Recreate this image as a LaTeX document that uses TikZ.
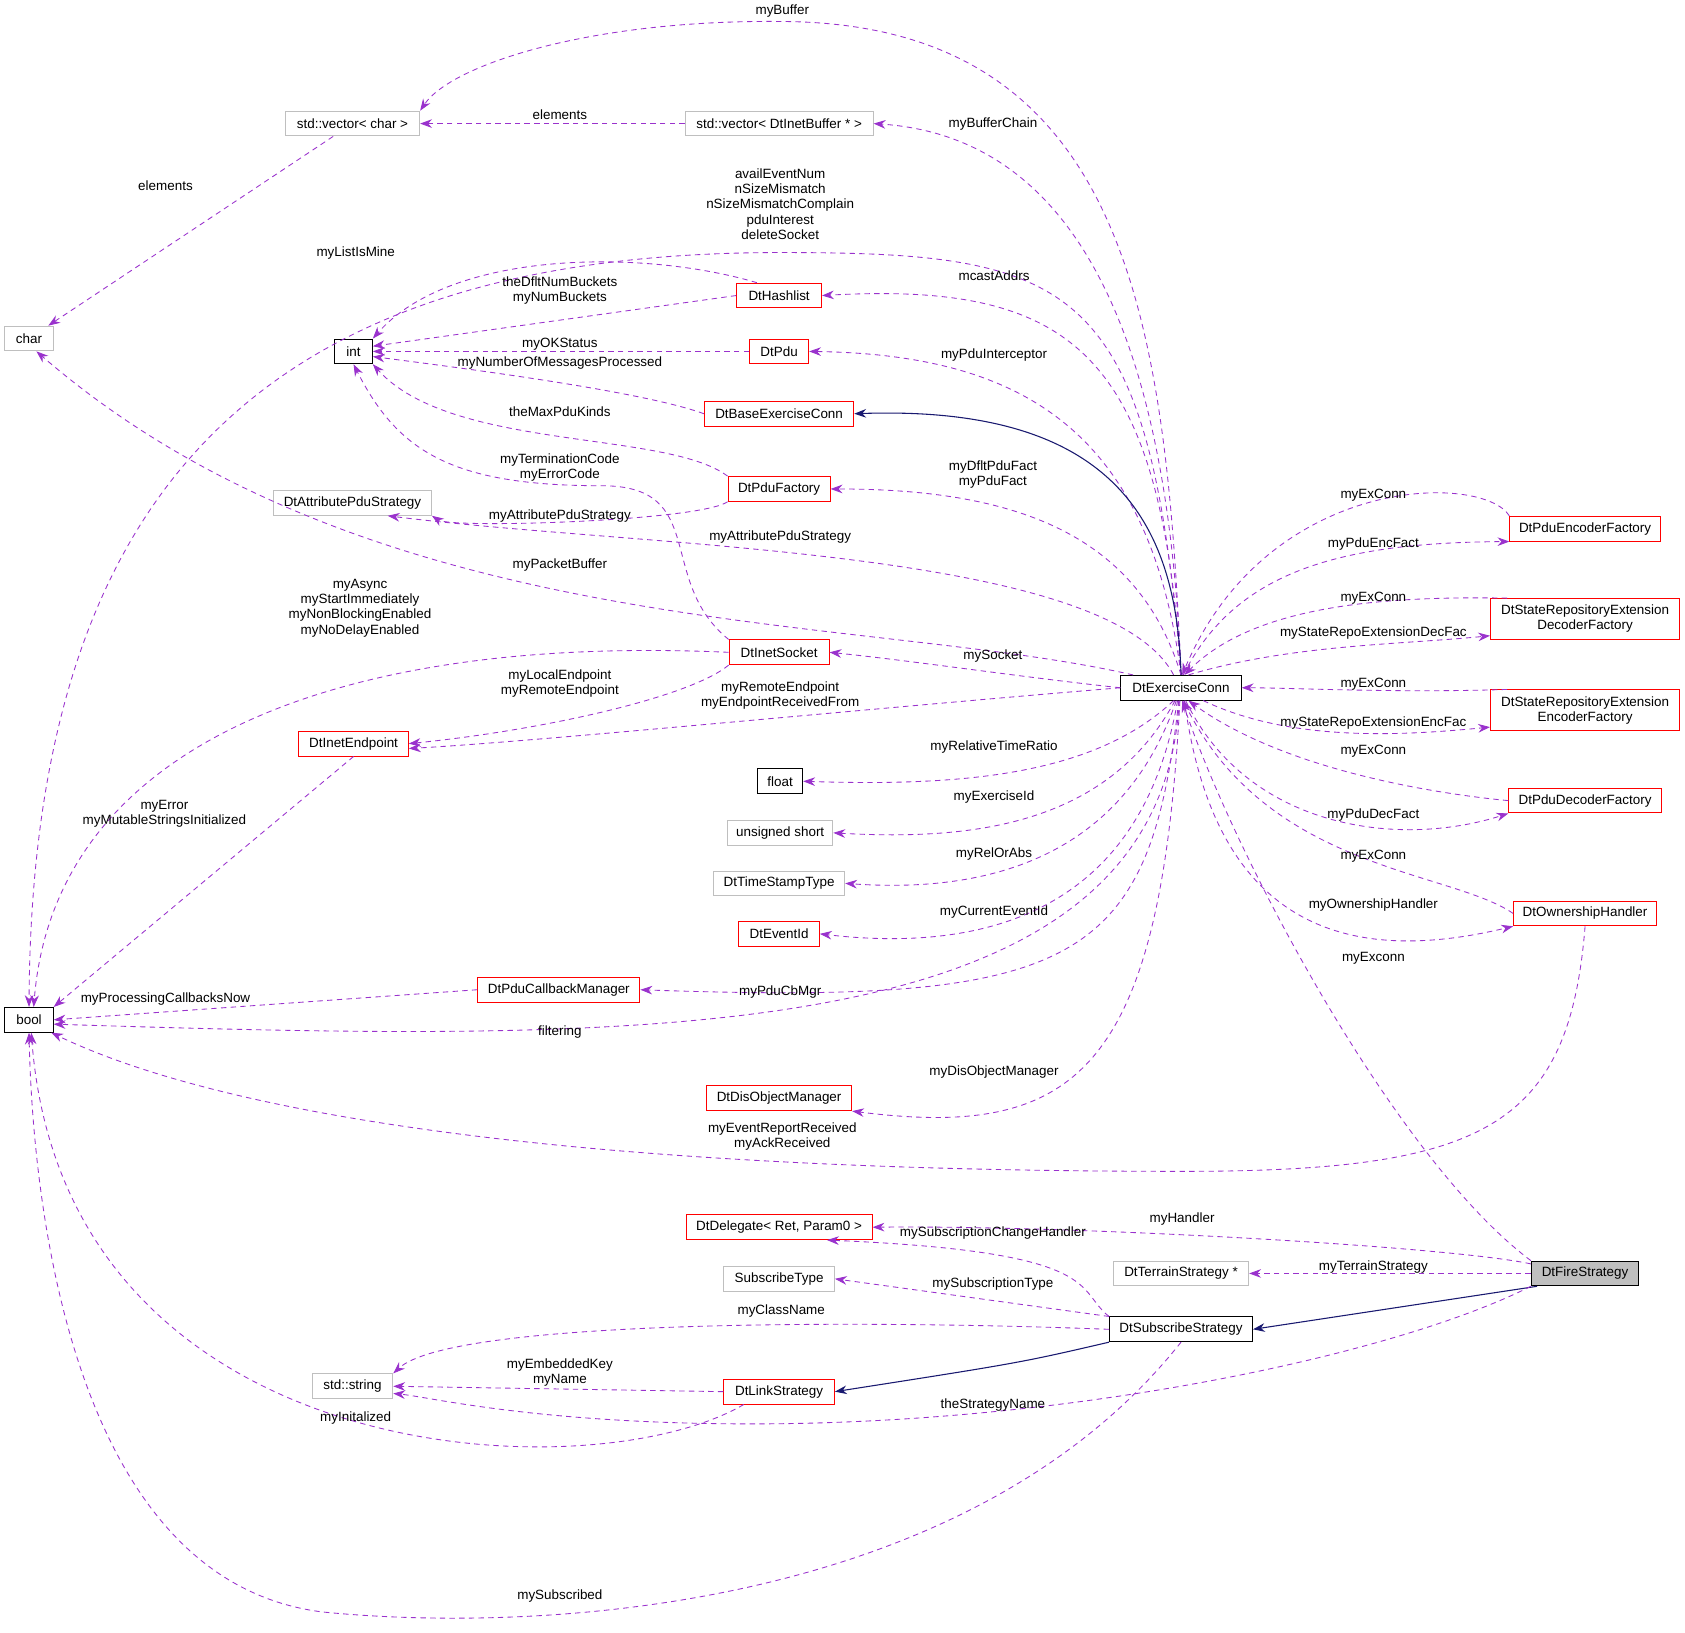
\documentclass[tikz,border=0pt]{standalone}
\usepackage{fontspec}
\setmainfont{Liberation Sans}
\usetikzlibrary{arrows.meta}
\definecolor{pe}{RGB}{154,50,205}
\definecolor{nv}{RGB}{25,25,112}
\definecolor{gb}{RGB}{191,191,191}
\begin{document}
\begin{tikzpicture}[x=1pt,y=-1pt,
  every node/.style={font=\fontsize{12.5}{14}\selectfont,inner sep=0pt,align=center},
  bx/.style={draw,minimum height=23pt,fill=white,line width=0.9pt},
  gr/.style={bx,draw=gb},
  rd/.style={bx,draw=red},
  bk/.style={bx,draw=black},
  d/.style={pe,dashed,dash pattern=on 5pt off 4pt,line width=0.8pt,-{Stealth[length=11pt,width=8pt]}},
  s/.style={nv,line width=1pt,-{Stealth[length=11pt,width=8pt]}},
  l/.style={text=black}]
\useasboundingbox (0,0) rectangle (1568,1519);
\fill[white] (0,0) rectangle (1568,1519);
% nodes
\node[gr,minimum width=125pt] (vc) at (328,115) {std::vector< char >};
\node[gr,minimum width=175pt] (vb) at (725,115) {std::vector< DtInetBuffer * >};
\node[gr,minimum width=45pt] (ch) at (27,315) {char};
\node[bk,minimum width=35pt] (int) at (329,327) {int};
\node[rd,minimum width=79pt] (hl) at (725,275) {DtHashlist};
\node[rd,minimum width=55pt] (pdu) at (725,327) {DtPdu};
\node[rd,minimum width=139pt] (be) at (725,385) {DtBaseExerciseConn};
\node[rd,minimum width=95pt] (pf) at (725,455) {DtPduFactory};
\node[gr,minimum width=147pt] (aps) at (328,468) {DtAttributePduStrategy};
\node[rd,minimum width=93pt] (is) at (725,607) {DtInetSocket};
\node[rd,minimum width=102pt] (ie) at (329,692) {DtInetEndpoint};
\node[bk,minimum width=42pt] (fl) at (726,727) {float};
\node[gr,minimum width=98pt] (us) at (726,775) {unsigned short};
\node[gr,minimum width=122pt] (ts) at (725,822) {DtTimeStampType};
\node[rd,minimum width=75pt] (eid) at (725,869) {DtEventId};
\node[rd,minimum width=151pt] (pcm) at (520,921) {DtPduCallbackManager};
\node[bk,minimum width=45pt] (bool) at (27,949) {bool};
\node[rd,minimum width=135pt] (dom) at (725,1022) {DtDisObjectManager};
\node[bk,minimum width=112pt] (ec) at (1099,640) {DtExerciseConn};
\node[rd,minimum width=140pt] (ef) at (1475,492) {DtPduEncoderFactory};
\node[rd,minimum width=176pt,minimum height=38pt] (sd) at (1475,576) {DtStateRepositoryExtension\\DecoderFactory};
\node[rd,minimum width=176pt,minimum height=38pt] (se) at (1475,661) {DtStateRepositoryExtension\\EncoderFactory};
\node[rd,minimum width=142pt] (df) at (1475,745) {DtPduDecoderFactory};
\node[rd,minimum width=133pt] (oh) at (1475,850) {DtOwnershipHandler};
\node[rd,minimum width=173pt] (dd) at (725,1142) {DtDelegate< Ret, Param0 >};
\node[gr,minimum width=126pt] (ts2) at (1099,1185) {DtTerrainStrategy *};
\node[gr,minimum width=103pt] (st) at (725,1190) {SubscribeType};
\node[bk,minimum width=100pt,fill=gb] (fs) at (1475,1185) {DtFireStrategy};
\node[bk,minimum width=133pt] (ss) at (1099,1237) {DtSubscribeStrategy};
\node[gr,minimum width=75pt] (sstr) at (328,1290) {std::string};
\node[rd,minimum width=103pt] (ls) at (725,1295) {DtLinkStrategy};
% edges
\draw[d] (ec.north) .. controls (1085,300) and (1050,22) .. (728,20) .. controls (550,18) and (420,60) .. (vc.north east);
\node[l] at (728,10) {myBuffer};
\draw[d] (ec.north) .. controls (1090,400) and (1040,130) .. (vb.east);
\node[l] at (924,115) {myBufferChain};
\draw[d] (vb.west) -- (vc.east); \node[l] at (521,107) {elements};
\draw[d] (vc) -- (ch); \node[l] at (154,173) {elements};
\draw[d] (ec.north) .. controls (1070,260) and (1000,235) .. (726,235) .. controls (250,235) and (30,450) .. (bool.north);
\node[l] at (726,190) {availEventNum\\nSizeMismatch\\nSizeMismatchComplain\\pduInterest\\deleteSocket};
\draw[d] (hl.150) .. controls (600,232) and (420,232) .. (int.north east); \node[l] at (331,235) {myListIsMine};
\draw[d] (hl.west) -- (int.15); \node[l] at (521,270) {theDfltNumBuckets\\myNumBuckets};
\draw[d] (ec.north) .. controls (1080,330) and (1000,262) .. (hl.east); \node[l] at (925,257) {mcastAddrs};
\draw[d] (pdu.west) -- (int.east); \node[l] at (521,320) {myOKStatus};
\draw[d] (be.west) .. controls (600,365) and (450,345) .. (int.-15); \node[l] at (521,338) {myNumberOfMessagesProcessed};
\draw[d] (ec.north) .. controls (1070,400) and (950,330) .. (pdu.east); \node[l] at (925,330) {myPduInterceptor};
\draw[s] (ec.north) .. controls (1095,480) and (1030,377) .. (be.east);
\draw[d] (pf.north west) .. controls (620,400) and (420,420) .. (int.south east); \node[l] at (521,383) {theMaxPduKinds};
\draw[d] (is.north west) .. controls (610,540) and (660,452) .. (560,452) .. controls (420,452) and (370,420) .. (int.south);
\node[l] at (521,435) {myTerminationCode\\myErrorCode};
\draw[d] (ec.north) .. controls (1060,500) and (950,455) .. (pf.east); \node[l] at (924,442) {myDfltPduFact\\myPduFact};
\draw[d] (pf.south west) .. controls (650,485) and (420,492) .. (aps.south east); \node[l] at (521,480) {myAttributePduStrategy};
\draw[d] (ec.120) .. controls (1030,510) and (600,510) .. (aps.-20); \node[l] at (726,500) {myAttributePduStrategy};
\draw[d] (ec.165) .. controls (800,570) and (350,600) .. (ch.-60); \node[l] at (521,526) {myPacketBuffer};
\draw[d] (is.west) .. controls (300,590) and (50,700) .. (bool.70); \node[l] at (335,566) {myAsync\\myStartImmediately\\myNonBlockingEnabled\\myNoDelayEnabled};
\draw[d] (ec.west) .. controls (950,630) and (850,615) .. (is.east); \node[l] at (924,610) {mySocket};
\draw[d] (is.south west) .. controls (640,650) and (500,680) .. (ie.east); \node[l] at (521,636) {myLocalEndpoint\\myRemoteEndpoint};
\draw[d] (ec.west) .. controls (800,660) and (500,690) .. (ie.-5); \node[l] at (726,647) {myRemoteEndpoint\\myEndpointReceivedFrom};
\draw[d] (ie.south) -- (bool.north east); \node[l] at (153,757) {myError\\myMutableStringsInitialized};
\draw[d] (ec.-120) .. controls (1020,720) and (900,732) .. (fl.east); \node[l] at (925,695) {myRelativeTimeRatio};
\draw[d] (ec.-115) .. controls (1030,770) and (900,782) .. (us.east); \node[l] at (925,742) {myExerciseId};
\draw[d] (ec.-110) .. controls (1040,810) and (900,830) .. (ts.east); \node[l] at (925,795) {myRelOrAbs};
\draw[d] (ec.-105) .. controls (1060,860) and (900,885) .. (eid.east); \node[l] at (925,849) {myCurrentEventId};
\draw[d] (ec.-100) .. controls (1070,900) and (1000,935) .. (pcm.east); \node[l] at (726,923) {myPduCbMgr};
\draw[d] (pcm.west) -- (bool.east); \node[l] at (154,930) {myProcessingCallbacksNow};
\draw[d] (ec.-98) .. controls (1080,980) and (600,970) .. (bool.-10); \node[l] at (521,960) {filtering};
\draw[d] (ec.-95) .. controls (1080,1000) and (1000,1060) .. (dom.south east); \node[l] at (925,998) {myDisObjectManager};
\draw[d] (oh.south) .. controls (1460,1050) and (1380,1090) .. (1100,1090) .. controls (400,1090) and (150,1010) .. (bool.-30);
\node[l] at (728,1058) {myEventReportReceived\\myAckReceived};
\draw[d] (ef.north west) .. controls (1380,440) and (1180,440) .. (ec.85); \node[l] at (1278,461) {myExConn};
\draw[d] (ec.80) .. controls (1150,530) and (1250,505) .. (ef.south west); \node[l] at (1278,506) {myPduEncFact};
\draw[d] (sd.165) .. controls (1300,555) and (1170,560) .. (ec.75); \node[l] at (1278,557) {myExConn};
\draw[d] (ec.60) .. controls (1200,600) and (1300,600) .. (sd.-170); \node[l] at (1278,589) {myStateRepoExtensionDecFac};
\draw[d] (se.165) .. controls (1300,645) and (1200,640) .. (ec.east); \node[l] at (1278,637) {myExConn};
\draw[d] (ec.-30) .. controls (1200,690) and (1300,685) .. (se.-170); \node[l] at (1278,673) {myStateRepoExtensionEncFac};
\draw[d] (df.west) .. controls (1350,740) and (1200,720) .. (ec.-60); \node[l] at (1278,699) {myExConn};
\draw[d] (ec.-70) .. controls (1160,770) and (1300,790) .. (df.south west); \node[l] at (1278,758) {myPduDecFact};
\draw[d] (oh.west) .. controls (1350,810) and (1180,810) .. (ec.-80); \node[l] at (1278,797) {myExConn};
\draw[d] (ec.-75) .. controls (1130,860) and (1250,900) .. (oh.south west); \node[l] at (1278,842) {myOwnershipHandler};
\draw[d] (fs.north west) .. controls (1300,1080) and (1150,800) .. (ec.-85); \node[l] at (1278,892) {myExconn};
\draw[d] (fs.170) .. controls (1350,1160) and (1000,1140) .. (dd.east); \node[l] at (1100,1134) {myHandler};
\draw[d] (ss.north west) .. controls (1000,1200) and (1030,1165) .. (dd.-15); \node[l] at (924,1147) {mySubscriptionChangeHandler};
\draw[d] (fs.west) -- (ts2.east); \node[l] at (1278,1179) {myTerrainStrategy};
\draw[s] (fs.-165) -- (ss.east);
\draw[d] (ss.north west) -- (st.east); \node[l] at (924,1195) {mySubscriptionType};
\draw[d] (ss.west) .. controls (800,1228) and (420,1228) .. (sstr.north east); \node[l] at (727,1220) {myClassName};
\draw[s] (ss.south west) .. controls (950,1268) .. (ls.east);
\draw[d] (ls.west) -- (sstr.east); \node[l] at (521,1277) {myEmbeddedKey\\myName};
\draw[d] (fs.south west) .. controls (1300,1260) and (1000,1325) .. (700,1325) .. controls (500,1325) and (400,1300) .. (sstr.-10); \node[l] at (924,1307) {theStrategyName};
\draw[d] (ls.-160) .. controls (550,1390) and (60,1370) .. (bool.-80); \node[l] at (331,1320) {myInitalized};
\draw[d] (ss.south) .. controls (900,1500) and (500,1520) .. (300,1500) .. controls (60,1470) and (30,1100) .. (bool.south); \node[l] at (521,1485) {mySubscribed};
\end{tikzpicture}
\end{document}
